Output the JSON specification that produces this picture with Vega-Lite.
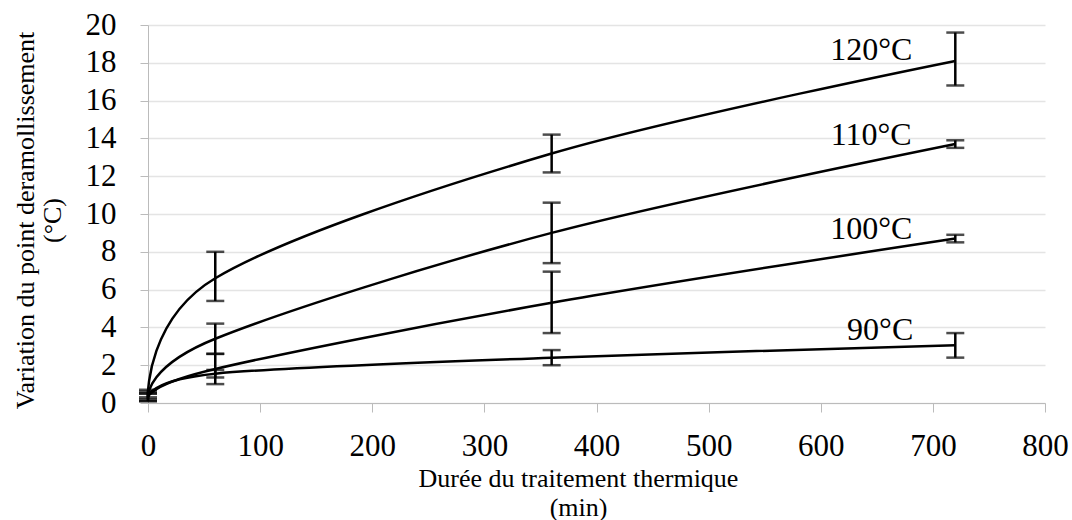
{
  "$schema": "https://vega.github.io/schema/vega-lite/v6.json",
  "autosize": "none",
  "width": 897,
  "height": 378,
  "padding": {"left": 148, "top": 25, "right": 27, "bottom": 117},
  "background": "white",
  "config": {
    "view": {"stroke": null},
    "font": "Liberation Serif",
    "axis": {"labelFont": "Liberation Serif", "titleFont": "Liberation Serif", "labelColor": "black", "titleColor": "black", "titleFontWeight": "normal", "labelOverlap": false, "labelFlush": false}
  },
  "datasets": {
    "pts": [
      {"temp": "120°C", "t": 0, "v": 0.5, "lo": 0.3, "hi": 0.7},
      {"temp": "120°C", "t": 60, "v": 6.6, "lo": 5.4, "hi": 8.0},
      {"temp": "120°C", "t": 360, "v": 13.2, "lo": 12.2, "hi": 14.2},
      {"temp": "120°C", "t": 720, "v": 18.1, "lo": 16.8, "hi": 19.6},
      {"temp": "110°C", "t": 0, "v": 0.4, "lo": 0.2, "hi": 0.6},
      {"temp": "110°C", "t": 60, "v": 3.4, "lo": 2.6, "hi": 4.2},
      {"temp": "110°C", "t": 360, "v": 9.0, "lo": 7.4, "hi": 10.6},
      {"temp": "110°C", "t": 720, "v": 13.7, "lo": 13.5, "hi": 13.9},
      {"temp": "100°C", "t": 0, "v": 0.3, "lo": 0.1, "hi": 0.5},
      {"temp": "100°C", "t": 60, "v": 1.8, "lo": 1.0, "hi": 2.6},
      {"temp": "100°C", "t": 360, "v": 5.3, "lo": 3.7, "hi": 6.95},
      {"temp": "100°C", "t": 720, "v": 8.7, "lo": 8.5, "hi": 8.9},
      {"temp": "90°C", "t": 0, "v": 0.3, "lo": 0.1, "hi": 0.5},
      {"temp": "90°C", "t": 60, "v": 1.55, "lo": 1.35, "hi": 1.75},
      {"temp": "90°C", "t": 360, "v": 2.4, "lo": 2.0, "hi": 2.8},
      {"temp": "90°C", "t": 720, "v": 3.05, "lo": 2.4, "hi": 3.7}
    ],
    "labels": [
      {"label": "120°C", "t": 645, "v": 18.66},
      {"label": "110°C", "t": 645, "v": 14.16},
      {"label": "100°C", "t": 645, "v": 9.23},
      {"label": "90°C", "t": 653, "v": 3.85}
    ]
  },
  "layer": [
    {
      "data": {"name": "pts"},
      "mark": {"type": "line", "interpolate": "cardinal", "tension": 0, "color": "black", "strokeWidth": 2.5},
      "encoding": {
        "x": {"field": "t", "type": "quantitative", "scale": {"domain": [0, 800], "nice": false},
          "axis": {"values": [0,100,200,300,400,500,600,700,800], "tickCount": 20, "grid": false, "domainColor": "#bbbbbb", "tickColor": "#bbbbbb", "tickSize": 9, "labelFontSize": 31, "labelPadding": 19,
            "title": ["Durée du traitement thermique", "(min)"], "titleFontSize": 26, "titleX": 430, "titleY": 62, "titleLineHeight": 29}},
        "y": {"field": "v", "type": "quantitative", "scale": {"domain": [0, 20], "nice": false},
          "axis": {"values": [0,2,4,6,8,10,12,14,16,18,20], "tickCount": 20, "grid": true, "gridColor": "#e4e4e4", "gridWidth": 1.5, "domainColor": "#bbbbbb", "tickColor": "#bbbbbb", "tickSize": 8, "labelFontSize": 31, "labelPadding": 24,
            "title": ["Variation du point deramollissement", "(°C)"], "titleFontSize": 26, "titleLineHeight": 27, "titleX": -110, "titleY": 195}},
        "detail": {"field": "temp"}
      }
    },
    {
      "data": {"name": "pts"},
      "mark": {"type": "rule", "color": "black", "strokeWidth": 2.5},
      "encoding": {
        "x": {"field": "t", "type": "quantitative"},
        "y": {"field": "lo", "type": "quantitative"},
        "y2": {"field": "hi"}
      }
    },
    {
      "data": {"name": "pts"},
      "mark": {"type": "tick", "orient": "horizontal", "color": "black", "size": 18, "thickness": 2.5},
      "encoding": {
        "x": {"field": "t", "type": "quantitative"},
        "y": {"field": "lo", "type": "quantitative"}
      }
    },
    {
      "data": {"name": "pts"},
      "mark": {"type": "tick", "orient": "horizontal", "color": "black", "size": 18, "thickness": 2.5},
      "encoding": {
        "x": {"field": "t", "type": "quantitative"},
        "y": {"field": "hi", "type": "quantitative"}
      }
    },
    {
      "data": {"name": "labels"},
      "mark": {"type": "text", "font": "Liberation Serif", "fontSize": 32, "color": "black", "align": "center", "baseline": "middle"},
      "encoding": {
        "x": {"field": "t", "type": "quantitative"},
        "y": {"field": "v", "type": "quantitative"},
        "text": {"field": "label"}
      }
    }
  ]
}
